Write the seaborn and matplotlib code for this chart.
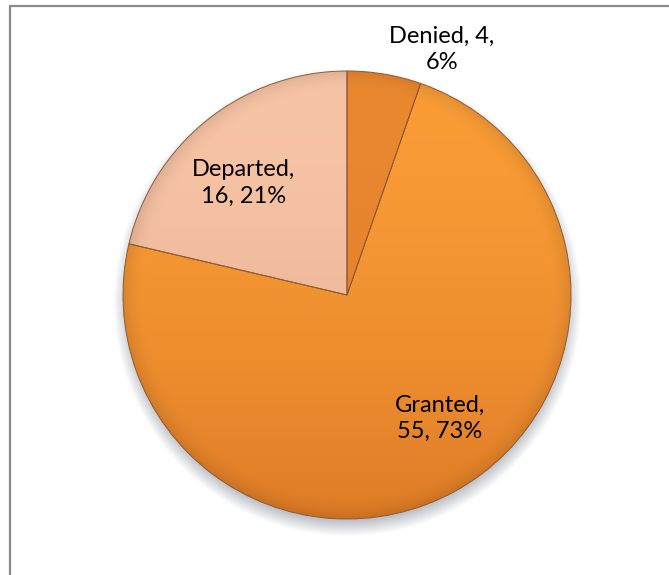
import numpy as np
import matplotlib
matplotlib.use("Agg")
import matplotlib.pyplot as plt
from matplotlib.lines import Line2D
import matplotlib.colors as mcolors
import seaborn as sns

# Case outcomes
categories = ["Denied", "Granted", "Departed"]
counts = [4, 55, 16]
percent_labels = ["6%", "73%", "21%"]
title_text = "Processing of Asylum Requests (2013)"

# slice shading: lighter tone at the top, deeper tone at the bottom
top_colors = ["#EA8830", "#F99C36", "#F7C4A5"]
bottom_colors = ["#D97526", "#DE7B26", "#DEA385"]

sns.set_theme(style="white")
plt.rcParams["font.family"] = ["Lato", "DejaVu Sans"]

W, H, DPI = 669, 575, 100
fig = plt.figure(figsize=(W / DPI, H / DPI), dpi=DPI)
fig.patch.set_facecolor("white")

# pie centre and radius in pixels
cx, cy, r = 347, 295, 224
span = 1.3
side = 2 * span * r
ax = fig.add_axes([(cx - side / 2) / W, ((H - cy) - side / 2) / H, side / W, side / H])
ax.set_facecolor("none")

# soft drop shadow under the pie
n = 600
g = np.linspace(-1.3, 1.3, n)
X, Y = np.meshgrid(g, g[::-1])
rho_s = np.hypot(X, Y + 0.035)
a = np.clip((1.045 - rho_s) / 0.07, 0, 1) * 0.45
shadow = np.zeros((n, n, 4))
shadow[..., :3] = mcolors.to_rgb("#6E7482")
shadow[..., 3] = a
ax.imshow(shadow, extent=[-1.3, 1.3, -1.3, 1.3], zorder=0, interpolation="bilinear")

wedges, _ = ax.pie(
    counts,
    startangle=90,
    counterclock=False,
    colors=top_colors,
    radius=1.0,
    wedgeprops=dict(edgecolor="#8E5A33", linewidth=0.7),
)

# gradient fill clipped to each wedge, with a darker rim for depth
m = 500
gg = np.linspace(-1, 1, m)
GX, GY = np.meshgrid(gg, gg[::-1])
rho = np.hypot(GX, GY)
t = (np.clip((1 - GY) / 2, 0, 1) ** 1.8)[..., None]
rim = np.clip((rho - 0.9) / 0.1, 0, 1)[..., None]
for w, c_top, c_bot in zip(wedges, top_colors, bottom_colors):
    c1 = np.array(mcolors.to_rgb(c_top))
    c2 = np.array(mcolors.to_rgb(c_bot))
    img = c1 * (1 - t) + c2 * t
    img = img * (1 - 0.10 * rim ** 2)
    im = ax.imshow(np.clip(img, 0, 1), extent=[-1, 1, -1, 1], zorder=2,
                   interpolation="bilinear")
    im.set_clip_path(w)
    w.set_zorder(3)
    w.set_facecolor("none")

# value labels
label_pos = [(0.424, 1.098), (0.415, -0.549), (-0.46, 0.50)]
label_lines = [
    f"{categories[0]}, {counts[0]},\n{percent_labels[0]}",
    f"{categories[1]},\n{counts[1]}, {percent_labels[1]}",
    f"{categories[2]},\n{counts[2]}, {percent_labels[2]}",
]
for (x, y), txt in zip(label_pos, label_lines):
    ax.text(x, y, txt, ha="center", va="center", fontsize=17,
            color="black", linespacing=1.3, zorder=5)

ax.set_xlim(-span, span)
ax.set_ylim(-span, span)
ax.set_aspect("equal")
ax.axis("off")

# chart frame
fc = "#8A8A8A"
fig.add_artist(Line2D([9.5 / W, 1.0], [1 - 5.5 / H, 1 - 5.5 / H], transform=fig.transFigure,
                      color=fc, linewidth=1.6))
fig.add_artist(Line2D([9.5 / W, 9.5 / W], [0, 1 - 5.5 / H], transform=fig.transFigure,
                      color=fc, linewidth=1.6))

# title sits above the frame, running off the top edge
fig.text(0.55, 1 + 4.5 / H, title_text, ha="center", va="baseline",
         fontsize=17, fontweight="bold", family=["Liberation Serif", "DejaVu Serif"])

fig.savefig("out.png", dpi=DPI, facecolor="white")
